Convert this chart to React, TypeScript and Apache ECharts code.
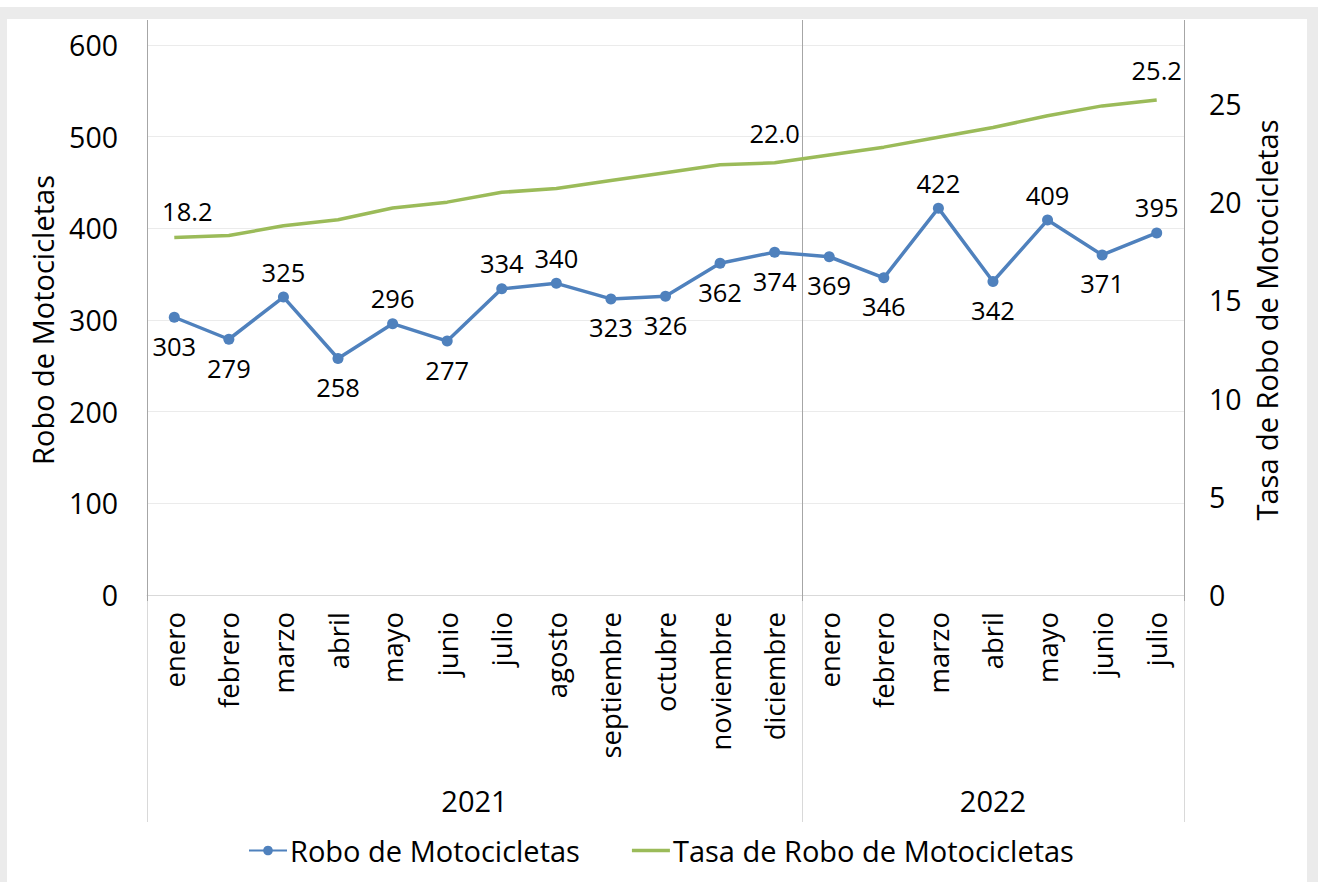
import React, { useEffect, useRef } from 'react';
import * as echarts from 'echarts';

const years = ['2021', '2022'];
const months2021 = ['enero', 'febrero', 'marzo', 'abril', 'mayo', 'junio', 'julio', 'agosto', 'septiembre', 'octubre', 'noviembre', 'diciembre'];
const months2022 = ['enero', 'febrero', 'marzo', 'abril', 'mayo', 'junio', 'julio'];
const robo = [303, 279, 325, 258, 296, 277, 334, 340, 323, 326, 362, 374, 369, 346, 422, 342, 409, 371, 395];
const tasa = [18.2, 18.3, 18.8, 19.1, 19.7, 20.0, 20.5, 20.7, 21.1, 21.5, 21.9, 22.0, 22.4, 22.8, 23.3, 23.8, 24.4, 24.9, 25.2];
const roboLabelPos = ['bottom', 'bottom', 'top', 'bottom', 'top', 'bottom', 'top', 'top', 'bottom', 'bottom', 'bottom', 'bottom', 'bottom', 'bottom', 'top', 'bottom', 'top', 'bottom', 'top'];
const tasaLabeled = [0, 11, 18];
const leftAxis = { min: 0, max: 600, interval: 100 };
const rightAxis = { min: 0, max: 28, interval: 5 };

const categories = [
  ...months2021.map((m) => years[0] + '|' + m),
  ...months2022.map((m) => years[1] + '|' + m),
];

const FONT = "'Open Sans', sans-serif";
const BLUE = '#4f81bd';
const GREEN = '#9bbb59';
const NAME_ROBO = 'Robo de Motocicletas';
const NAME_TASA = 'Tasa de Robo de Motocicletas';

export default function App() {
  const ref = useRef<HTMLDivElement>(null);
  useEffect(() => {
    if (!ref.current) return;
    const chart = echarts.init(ref.current, null, { renderer: 'svg' });
    chart.setOption({
      animation: false,
      backgroundColor: 'transparent',
      textStyle: { fontFamily: FONT, color: '#000' },
      grid: { left: 147, top: 45, width: 1037, height: 550, containLabel: false },
      legend: {
        left: 248,
        top: 836,
        padding: 0,
        itemWidth: 38,
        itemHeight: 12,
        itemGap: 52,
        textStyle: { fontFamily: FONT, fontSize: 29, color: '#000', padding: [0, 0, 0, -2] },
        data: [
          { name: NAME_ROBO },
          { name: NAME_TASA, icon: 'path://M0,0L38,0L38,3.5L0,3.5Z' },
        ],
      },
      xAxis: {
        type: 'category',
        data: categories,
        boundaryGap: true,
        axisLine: { show: true, lineStyle: { color: '#d9d9d9', width: 1 } },
        axisTick: { show: false },
        axisLabel: {
          rotate: 90,
          interval: 0,
          margin: 17,
          fontFamily: FONT,
          fontSize: 27.5,
          color: '#000',
          formatter: (v: string) => v.split('|')[1],
        },
        splitLine: { show: false },
      },
      yAxis: [
        {
          type: 'value',
          ...leftAxis,
          name: NAME_ROBO,
          nameLocation: 'middle',
          nameRotate: 90,
          nameGap: 90,
          nameTextStyle: { fontFamily: FONT, fontSize: 29, color: '#000' },
          axisLine: { show: false },
          axisTick: { show: false },
          axisLabel: { margin: 29, fontFamily: FONT, fontSize: 28.5, color: '#000' },
          splitLine: { show: true, lineStyle: { color: '#ebebeb', width: 1 } },
        },
        {
          type: 'value',
          ...rightAxis,
          position: 'right',
          name: NAME_TASA,
          nameLocation: 'middle',
          nameRotate: 90,
          nameGap: 68,
          nameTextStyle: { fontFamily: FONT, fontSize: 29, color: '#000' },
          axisLine: { show: false },
          axisTick: { show: false },
          axisLabel: { margin: 25, fontFamily: FONT, fontSize: 28.5, color: '#000', showMaxLabel: false },
          splitLine: { show: false },
        },
      ],
      series: [
        {
          name: NAME_ROBO,
          type: 'line',
          yAxisIndex: 0,
          symbol: 'circle',
          symbolSize: 11,
          z: 3,
          lineStyle: { color: BLUE, width: 3.5 },
          itemStyle: { color: BLUE },
          data: robo.map((v, i) => ({
            value: v,
            label: { show: true, position: roboLabelPos[i], distance: roboLabelPos[i] === 'top' ? 7 : 10 },
          })),
          label: { fontFamily: FONT, fontSize: 25.5, color: '#000' },
        },
        {
          name: NAME_TASA,
          type: 'line',
          yAxisIndex: 1,
          symbol: 'none',
          z: 2,
          lineStyle: { color: GREEN, width: 3.5 },
          itemStyle: { color: GREEN },
          data: tasa,
        },
        {
          name: 'tasa-labels',
          type: 'scatter',
          yAxisIndex: 1,
          symbol: 'circle',
          symbolSize: 0,
          silent: true,
          z: 4,
          itemStyle: { color: 'rgba(0,0,0,0)', opacity: 1 },
          data: tasa.map((v, i) => (tasaLabeled.includes(i) ? v : '-')),
          label: {
            show: true,
            position: 'top',
            distance: 17,
            fontFamily: FONT,
            fontSize: 25.5,
            color: '#000',
            opacity: 1,
            formatter: (p: any) => Number(p.value).toFixed(1),
          },
          labelLayout: (params: any) => (params.dataIndex === 0 ? { dx: 13, dy: 3 } : {}),
        },
      ],
    });

    const px = (i: number) => chart.convertToPixel({ xAxisIndex: 0 }, i) as number;
    const band = px(1) - px(0);
    const leftB = px(0) - band / 2;
    const splitB = px(months2021.length - 1) + band / 2;
    const rightB = px(categories.length - 1) + band / 2;
    const yTop = 20;
    const yAxisPix = chart.convertToPixel({ yAxisIndex: 0 }, leftAxis.min) as number;
    const yEnd = 822;
    const dark = '#a6a6a6';
    const light = '#d9d9d9';
    const vline = (x: number, y1: number, y2: number, c: string) => ({
      type: 'line',
      z: 1,
      silent: true,
      shape: { x1: Math.round(x) + 0.5, y1, x2: Math.round(x) + 0.5, y2 },
      style: { stroke: c, lineWidth: 1 },
    });
    chart.setOption({
      graphic: [
        vline(leftB, yTop, yAxisPix + 6, dark),
        vline(leftB, yAxisPix + 6, yEnd, light),
        vline(splitB, yTop, yAxisPix + 6, dark),
        vline(splitB, yAxisPix + 6, yEnd, light),
        vline(rightB, yTop, yAxisPix + 6, dark),
        vline(rightB, yAxisPix + 6, yEnd, light),
        {
          type: 'text',
          x: (leftB + splitB) / 2,
          y: 800,
          style: { text: years[0], fontFamily: FONT, fontSize: 29, fill: '#000', align: 'center', verticalAlign: 'middle' },
        },
        {
          type: 'text',
          x: (splitB + rightB) / 2,
          y: 800,
          style: { text: years[1], fontFamily: FONT, fontSize: 29, fill: '#000', align: 'center', verticalAlign: 'middle' },
        },
      ],
    });
    return () => chart.dispose();
  }, []);

  return (
    <div style={{ position: 'fixed', left: 0, top: 0, width: 1318, height: 882, background: '#ffffff', overflow: 'hidden' }}>
      <div style={{ position: 'absolute', left: 0, top: 7, width: 1318, height: 875, background: '#ebebeb' }} />
      <div style={{ position: 'absolute', left: 7, top: 19, width: 1300, height: 863, background: '#ffffff' }} />
      <div ref={ref} style={{ position: 'absolute', left: 0, top: 0, width: 1318, height: 882 }} />
    </div>
  );
}
